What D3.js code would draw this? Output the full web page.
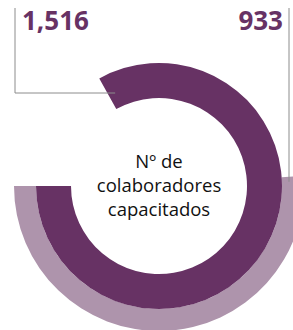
<!DOCTYPE html>
<html>
<head>
<meta charset="utf-8">
<script src="https://cdn.jsdelivr.net/npm/d3@7"></script>
<style>
  html, body { margin: 0; padding: 0; background: #fff; }
</style>
</head>
<body>
<div id="main"></div>
<script>
// data
var values = [1516, 933]
var labels = ["1,516", "933"]
var colors = ["#673264", "#ae94ac"]
var centerText = ["Nº de", "colaboradores", "capacitados"]

var width = 293, height = 330
var cx = 159, cy = 186

var SVG = d3.select("#main")
            .append("svg")
            .attr("width", width)
            .attr("height", height)

// angle scale: both arcs end at 9 o'clock and grow counter-clockwise
var angle = d3.scaleLinear()
              .domain([0, 1825])
              .range([0, 2 * Math.PI])
var endAngle = 1.5 * Math.PI

var rings = [
  { inner: 88, outer: 123 },
  { inner: 123, outer: 145 }
]

var g = SVG.append("g")
           .attr("transform", "translate(" + cx + "," + cy + ")")

// callout lines (behind arcs)
var lines = SVG.append("g")
               .attr("stroke", "#8c8c8c")
               .attr("stroke-width", 1)
               .attr("fill", "none")

var a0 = endAngle - angle(values[0])
var r0 = rings[0].outer - 8
lines.append("path")
     .attr("d", "M15,8 V93 H" + (cx + r0 * Math.sin(a0) + 12))

var a1 = endAngle - angle(values[1])
lines.append("path")
     .attr("d", "M289,8 V" + (cy - rings[1].outer * Math.cos(a1) + 6))

var arc = d3.arc()

g.selectAll("path.ring")
 .data(values.map(function(v, i){ return {v: v, i: i} }).reverse())
 .enter()
 .append("path")
 .attr("class", "ring")
 .attr("fill", function(d){ return colors[d.i] })
 .attr("d", function(d){
   return arc({
     innerRadius: rings[d.i].inner,
     outerRadius: rings[d.i].outer,
     startAngle: endAngle - angle(d.v),
     endAngle: endAngle
   })
 })

// value labels
SVG.append("text")
   .attr("x", 22)
   .attr("y", 30)
   .attr("font-family", "Open Sans")
   .attr("font-weight", 700)
   .attr("font-size", 26)
   .attr("fill", colors[0])
   .text(labels[0])

SVG.append("text")
   .attr("x", 283)
   .attr("y", 30)
   .attr("text-anchor", "end")
   .attr("font-family", "Open Sans")
   .attr("font-weight", 700)
   .attr("font-size", 26)
   .attr("fill", colors[0])
   .text(labels[1])

// center text
SVG.append("g")
   .selectAll("text")
   .data(centerText)
   .enter()
   .append("text")
   .attr("x", cx)
   .attr("y", function(d, i){ return 168 + i * 24 })
   .attr("text-anchor", "middle")
   .attr("font-family", "Open Sans")
   .attr("font-size", 18.5)
   .attr("fill", "#111")
   .text(function(d){ return d })
</script>
</body>
</html>
